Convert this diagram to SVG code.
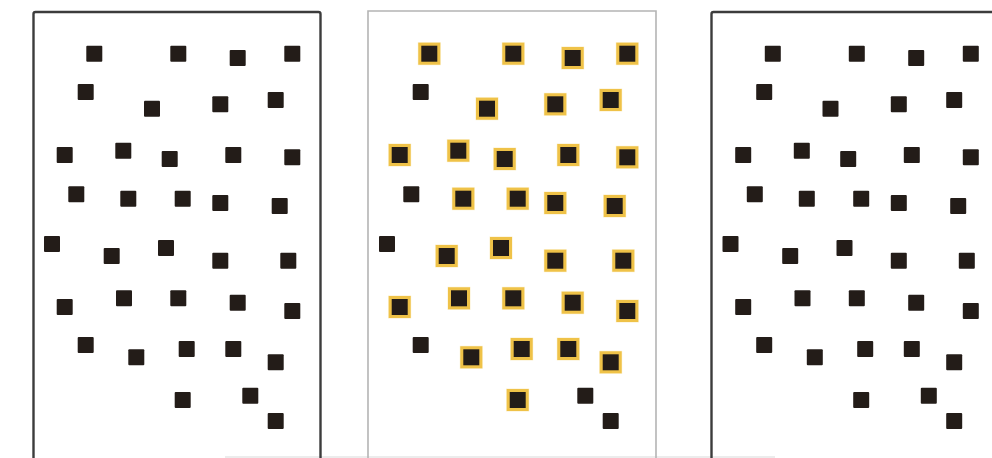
<svg xmlns="http://www.w3.org/2000/svg" xmlns:xlink="http://www.w3.org/1999/xlink" width="992" height="458" viewBox="0 0 992 458">
<style>
.frameDark{fill:none;stroke:#3c3c3c;stroke-width:2.4}
.frameLight{fill:none;stroke:#b4b4b4;stroke-width:1.6}
.sq{fill:#231c18}
.hl{fill:#231c18;stroke:#efc248;stroke-width:3}
</style>
<defs>
<rect id="s" class="sq" x="-8" y="-8" width="16" height="16" rx="1"/>
<g id="h">
<rect x="-11.5" y="-11.5" width="23" height="23" fill="#f7dc8a" opacity="0.45"/>
<rect class="hl" x="-9.5" y="-9.5" width="19" height="19"/>
</g>
</defs>
<rect width="992" height="458" fill="#ffffff"/>
<line x1="225" y1="457" x2="775" y2="457" stroke="#e6e6e6" stroke-width="1.5"/>

<g id="panel-left">
<path class="frameDark" d="M33.5 460 V14 Q33.5 12 35.5 12 H318.5 Q320.5 12 320.5 14 V460"/>
<use href="#s" x="94.3" y="53.7"/><use href="#s" x="178.3" y="53.7"/><use href="#s" x="237.7" y="58"/><use href="#s" x="292.3" y="53.7"/>
<use href="#s" x="85.7" y="92"/><use href="#s" x="152" y="108.7"/><use href="#s" x="220.3" y="104.3"/><use href="#s" x="275.7" y="100"/>
<use href="#s" x="64.7" y="155"/><use href="#s" x="123.3" y="150.7"/><use href="#s" x="169.7" y="159"/><use href="#s" x="233.3" y="155"/><use href="#s" x="292.3" y="157.3"/>
<use href="#s" x="76.3" y="194.3"/><use href="#s" x="128.3" y="198.7"/><use href="#s" x="182.7" y="198.7"/><use href="#s" x="220.3" y="203"/><use href="#s" x="279.7" y="206"/>
<use href="#s" x="52" y="244"/><use href="#s" x="111.7" y="256"/><use href="#s" x="166" y="248"/><use href="#s" x="220.3" y="260.7"/><use href="#s" x="288.3" y="260.7"/>
<use href="#s" x="64.7" y="307"/><use href="#s" x="124" y="298.3"/><use href="#s" x="178.3" y="298.3"/><use href="#s" x="237.7" y="302.7"/><use href="#s" x="292.3" y="311"/>
<use href="#s" x="85.7" y="345"/><use href="#s" x="136.3" y="357.3"/><use href="#s" x="186.7" y="349"/><use href="#s" x="233.3" y="349"/><use href="#s" x="275.7" y="362.3"/>
<use href="#s" x="182.7" y="400"/><use href="#s" x="250.3" y="395.7"/><use href="#s" x="275.7" y="421"/>
</g>

<g id="panel-middle">
<path class="frameLight" d="M368 460 V11 H656 V460"/>
<g transform="translate(335,0)">
<use href="#h" x="94.3" y="53.7"/><use href="#h" x="178.3" y="53.7"/><use href="#h" x="237.7" y="58"/><use href="#h" x="292.3" y="53.7"/>
<use href="#s" x="85.7" y="92"/><use href="#h" x="152" y="108.7"/><use href="#h" x="220.3" y="104.3"/><use href="#h" x="275.7" y="100"/>
<use href="#h" x="64.7" y="155"/><use href="#h" x="123.3" y="150.7"/><use href="#h" x="169.7" y="159"/><use href="#h" x="233.3" y="155"/><use href="#h" x="292.3" y="157.3"/>
<use href="#s" x="76.3" y="194.3"/><use href="#h" x="128.3" y="198.7"/><use href="#h" x="182.7" y="198.7"/><use href="#h" x="220.3" y="203"/><use href="#h" x="279.7" y="206"/>
<use href="#s" x="52" y="244"/><use href="#h" x="111.7" y="256"/><use href="#h" x="166" y="248"/><use href="#h" x="220.3" y="260.7"/><use href="#h" x="288.3" y="260.7"/>
<use href="#h" x="64.7" y="307"/><use href="#h" x="124" y="298.3"/><use href="#h" x="178.3" y="298.3"/><use href="#h" x="237.7" y="302.7"/><use href="#h" x="292.3" y="311"/>
<use href="#s" x="85.7" y="345"/><use href="#h" x="136.3" y="357.3"/><use href="#h" x="186.7" y="349"/><use href="#h" x="233.3" y="349"/><use href="#h" x="275.7" y="362.3"/>
<use href="#h" x="182.7" y="400"/><use href="#s" x="250.3" y="395.7"/><use href="#s" x="275.7" y="421"/>
</g>
</g>

<g id="panel-right">
<path class="frameDark" d="M711.5 460 V14 Q711.5 12 713.5 12 H1000"/>
<g transform="translate(678.5,0)">
<use href="#s" x="94.3" y="53.7"/><use href="#s" x="178.3" y="53.7"/><use href="#s" x="237.7" y="58"/><use href="#s" x="292.3" y="53.7"/>
<use href="#s" x="85.7" y="92"/><use href="#s" x="152" y="108.7"/><use href="#s" x="220.3" y="104.3"/><use href="#s" x="275.7" y="100"/>
<use href="#s" x="64.7" y="155"/><use href="#s" x="123.3" y="150.7"/><use href="#s" x="169.7" y="159"/><use href="#s" x="233.3" y="155"/><use href="#s" x="292.3" y="157.3"/>
<use href="#s" x="76.3" y="194.3"/><use href="#s" x="128.3" y="198.7"/><use href="#s" x="182.7" y="198.7"/><use href="#s" x="220.3" y="203"/><use href="#s" x="279.7" y="206"/>
<use href="#s" x="52" y="244"/><use href="#s" x="111.7" y="256"/><use href="#s" x="166" y="248"/><use href="#s" x="220.3" y="260.7"/><use href="#s" x="288.3" y="260.7"/>
<use href="#s" x="64.7" y="307"/><use href="#s" x="124" y="298.3"/><use href="#s" x="178.3" y="298.3"/><use href="#s" x="237.7" y="302.7"/><use href="#s" x="292.3" y="311"/>
<use href="#s" x="85.7" y="345"/><use href="#s" x="136.3" y="357.3"/><use href="#s" x="186.7" y="349"/><use href="#s" x="233.3" y="349"/><use href="#s" x="275.7" y="362.3"/>
<use href="#s" x="182.7" y="400"/><use href="#s" x="250.3" y="395.7"/><use href="#s" x="275.7" y="421"/>
</g>
</g>
</svg>
